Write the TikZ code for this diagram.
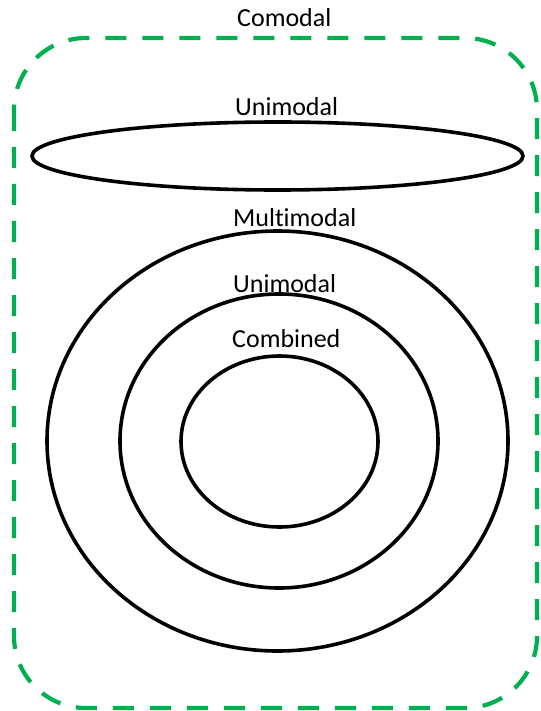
\documentclass[tikz,border=0pt]{standalone}
\usepackage{fontspec}
\setmainfont[Ligatures={NoCommon}]{Carlito}
\usetikzlibrary{shapes.geometric}
\definecolor{dashgreen}{HTML}{00B050}
\tikzset{
  ring/.style={draw=black, line width=3.6pt, ellipse, inner sep=0pt},
  lbl/.style={anchor=base west, inner sep=0pt, font=\fontsize{26pt}{30pt}\selectfont},
  frame/.style={draw=dashgreen, line width=4.2pt, dash pattern=on 21pt off 16pt, rounded corners=72pt}
}
\begin{document}
\begin{tikzpicture}[x=1pt, y=-1pt]
  \useasboundingbox (0,0) rectangle (540,711);
  % dashed outer frame
  \draw[frame] (14,38) rectangle (537,708);
  \node[lbl] (comodal) at (237,27) {Comodal};
  % flat ellipse
  \node[ring, minimum width=491pt, minimum height=68pt] (uniA) at (277.5,156) {};
  \node[lbl] (uniAlbl) at (235,116) {Unimodal};
  % nested ellipses
  \node[ring, minimum width=461pt, minimum height=420pt] (multi) at (277.5,441) {};
  \node[lbl] (multilbl) at (233,226) {Multimodal};
  \node[ring, minimum width=318pt, minimum height=294pt] (uniB) at (279,441) {};
  \node[lbl] (uniBlbl) at (233,292) {Unimodal};
  \node[ring, minimum width=197pt, minimum height=171pt] (comb) at (279.5,441.5) {};
  \node[lbl] (comblbl) at (232,347) {Combined};
\end{tikzpicture}
\end{document}
